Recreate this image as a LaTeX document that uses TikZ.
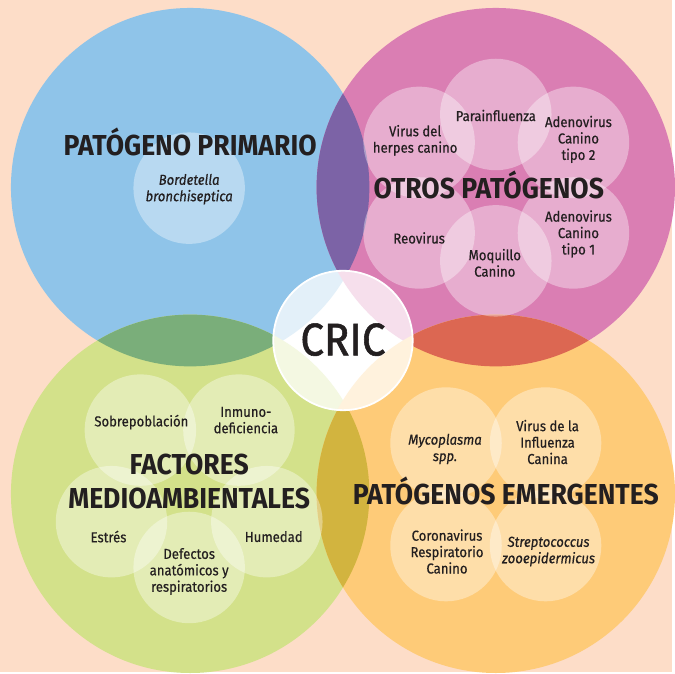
\documentclass[tikz,border=0pt]{standalone}
\usepackage{fontspec}
\setmainfont{Fira Sans}
\newfontfamily\titlefont[FakeStretch=0.92]{Fira Sans}
\newfontfamily\smallfont[FakeStretch=0.91,FakeBold=0.5]{Fira Sans}
\newfontfamily\cricfont[FakeStretch=0.92,FakeBold=1.2]{Fira Sans}
\definecolor{bgC}{HTML}{FDDDC8}
\definecolor{blueC}{HTML}{8FC4E9}
\definecolor{magC}{HTML}{DA7EB3}
\definecolor{greenC}{HTML}{D3E18A}
\definecolor{orangeC}{HTML}{FECB78}
\definecolor{bmC}{HTML}{7C63A6}
\definecolor{bgrC}{HTML}{7AAE7A}
\definecolor{moC}{HTML}{DC6752}
\definecolor{goC}{HTML}{D2B43F}
\definecolor{ink}{HTML}{231F20}
\begin{document}
\begin{tikzpicture}[x=1pt,y=-1pt,
  title/.style={font=\titlefont\bfseries\fontsize{29}{34}\selectfont, text=ink, anchor=base, inner sep=0pt},
  lbl/.style={font=\smallfont\fontsize{14.5}{16.5}\selectfont, text=ink, align=center, inner sep=0pt},
  ilbl/.style={lbl, font=\smallfont\itshape\fontsize{14.5}{16.5}\selectfont},
  sub/.style={fill=white, fill opacity=0.37},
  big/.style={radius=180pt},
  small/.style={radius=56pt}]
\fill[bgC] (0,0) rectangle (675,675);
\coordinate (B) at (191,188);
\coordinate (M) at (498,188);
\coordinate (G) at (191,496);
\coordinate (O) at (498,496);
\coordinate (C) at (344.5,342);
% big circles
\fill[blueC] (B) circle[big];
\fill[magC] (M) circle[big];
\fill[greenC] (G) circle[big];
\fill[orangeC] (O) circle[big];
% overlaps
\begin{scope}\clip (B) circle[big]; \fill[bmC] (M) circle[big];\end{scope}
\begin{scope}\clip (B) circle[big]; \fill[bgrC] (G) circle[big];\end{scope}
\begin{scope}\clip (M) circle[big]; \fill[moC] (O) circle[big];\end{scope}
\begin{scope}\clip (G) circle[big]; \fill[goC] (O) circle[big];\end{scope}
% sub circles: blue
\fill[sub] (190,189) circle[small];
% magenta
\fill[sub] (498,115) circle[small];
\fill[sub] (421,143) circle[small];
\fill[sub] (576,143) circle[small];
\fill[sub] (421,234) circle[small];
\fill[sub] (498,262) circle[small];
\fill[sub] (576,234) circle[small];
% green
\fill[sub] (141,432) circle[small];
\fill[sub] (240,432) circle[small];
\fill[sub] (112,524) circle[small];
\fill[sub] (268,524) circle[small];
\fill[sub] (190,570) circle[small];
% orange
\fill[sub] (448,445) circle[small];
\fill[sub] (548,445) circle[small];
\fill[sub] (448,548) circle[small];
\fill[sub] (548,548) circle[small];
% titles
\node[title] (t1) at (191,156) {PATÓGENO PRIMARIO};
\node[title] (t2) at (491,199) {OTROS PATÓGENOS};
\node[title] (t3a) at (190,477) {FACTORES};
\node[title] (t3b) at (190,511) {MEDIOAMBIENTALES};
\node[title] (t4) at (508,507) {PATÓGENOS EMERGENTES};
% labels blue
\node[ilbl] (l1) at (190,190) {Bordetella\\bronchiseptica};
% magenta
\node[lbl] (m1) at (417,141) {Virus del\\herpes canino};
\node[lbl] (m2) at (498,116) {Parainfluenza};
\node[lbl] (m3) at (581,140) {Adenovirus\\Canino\\tipo 2};
\node[lbl] (m4) at (421,239) {Reovirus};
\node[lbl] (m5) at (497,264) {Moquillo\\Canino};
\node[lbl] (m6) at (581,235) {Adenovirus\\Canino\\tipo 1};
% green
\node[lbl] (g1) at (142,424) {Sobrepoblación};
\node[lbl] (g2) at (247,422) {Inmuno-\\deficiencia};
\node[lbl] (g3) at (109,539) {Estrés};
\node[lbl] (g4) at (275,539) {Humedad};
\node[lbl] (g5) at (190,574) {Defectos\\anatómicos y\\respiratorios};
% orange
\node[ilbl] (o1) at (447,451) {Mycoplasma\\spp.};
\node[lbl] (o2) at (550,444) {Virus de la\\Influenza\\Canina};
\node[lbl] (o3) at (449,554) {Coronavirus\\Respiratorio\\Canino};
\node[ilbl] (o4) at (551,554) {Streptococcus\\zooepidermicus};
% CRIC circle
\begin{scope}
  \clip (C) circle[radius=70pt];
  \fill[white] (C) circle[radius=70pt];
  \fill[blueC!25!white] (B) circle[big];
  \fill[magC!25!white] (M) circle[big];
  \fill[greenC!25!white] (G) circle[big];
  \fill[orangeC!25!white] (O) circle[big];
\end{scope}
\draw[white, line width=1.8pt] (C) circle[radius=70pt];
\node[font=\cricfont\fontsize{46}{46}\selectfont, text=ink, anchor=base, inner sep=0pt] (cric) at (344.5,357) {CRIC};
\end{tikzpicture}
\end{document}
